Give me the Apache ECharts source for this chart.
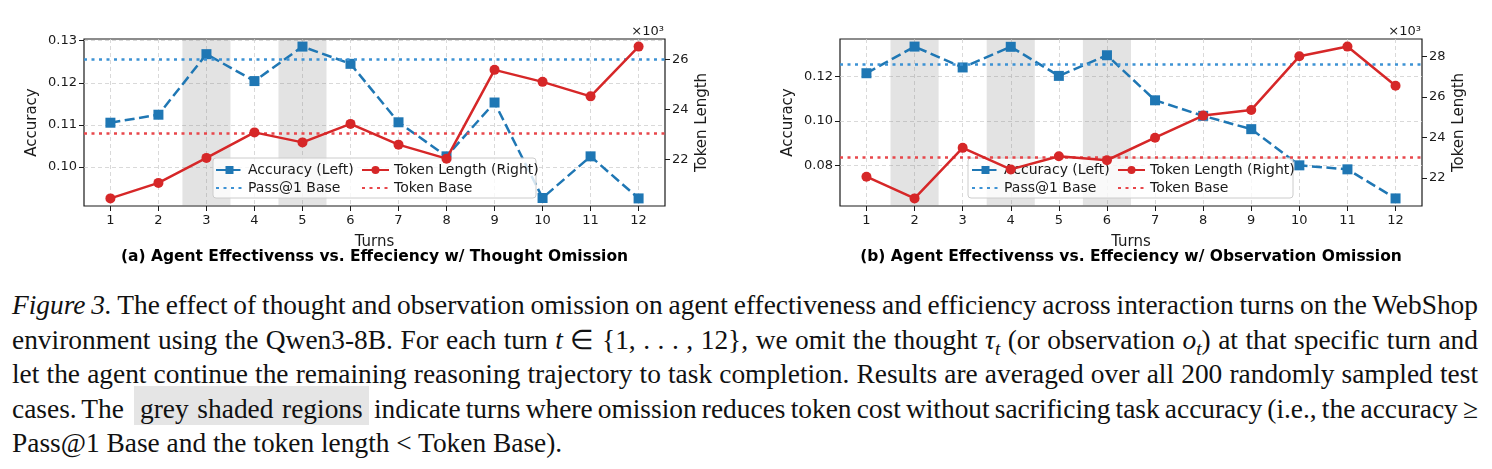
<!DOCTYPE html>
<html>
<head>
<meta charset="utf-8">
<script src="https://cdn.jsdelivr.net/npm/echarts@6/dist/echarts.min.js"></script>
<style>
  html, body { margin: 0; padding: 0; background: #fff; }
  #chart { position: absolute; left: 0; top: 0; width: 1492px; height: 280px; }
  #caption {
    position: absolute; left: 12px; top: 288px; width: 1466px;
    font-family: "Liberation Serif", "Times New Roman", serif;
    font-size: 27.4px; line-height: 34.5px; color: #111;
  }
  #caption .ln { display: block; white-space: nowrap; text-align: justify; text-align-last: justify; word-spacing: -3.5px; }
  #caption .ln.last { text-align-last: left; word-spacing: 0; }
  #caption sub { font-size: 0.7em; line-height: 0; }
  .hl { background: #e5e5e5; padding: 8px 6px 1px; margin-left: 5px; word-spacing: 0; }
</style>
</head>
<body>
<div id="chart"></div>
<div id="caption">
  <span class="ln"><i>Figure 3.</i> The effect of thought and observation omission on agent effectiveness and efficiency across interaction turns on the WebShop</span>
  <span class="ln">environment using the Qwen3-8B. For each turn <i>t</i> &isin; {1, . . . , 12}, we omit the thought <i>&tau;<sub>t</sub></i> (or observation <i>o<sub>t</sub></i>) at that specific turn and</span>
  <span class="ln">let the agent continue the remaining reasoning trajectory to task completion. Results are averaged over all 200 randomly sampled test</span>
  <span class="ln">cases. The <span class="hl">grey shaded regions</span> indicate turns where omission reduces token cost without sacrificing task accuracy (i.e., the accuracy &ge;</span>
  <span class="ln last">Pass@1 Base and the token length &lt; Token Base).</span>
</div>
<script>
const turns = [1, 2, 3, 4, 5, 6, 7, 8, 9, 10, 11, 12];

// (a) thought omission
const accThought = [0.1105, 0.1124, 0.1268, 0.1204, 0.1286, 0.1245, 0.1106, 0.1025, 0.1153, 0.0926, 0.1025, 0.0925];
const tokThought = [20.45, 21.07, 22.07, 23.09, 22.69, 23.43, 22.60, 22.04, 25.59, 25.11, 24.53, 26.52];
const shadedThought = [3, 5];

// (b) observation omission
const accObs = [0.1215, 0.1335, 0.1241, 0.1334, 0.1203, 0.1296, 0.1093, 0.1023, 0.0963, 0.0800, 0.0782, 0.0651];
const tokObs = [22.07, 21.00, 23.49, 22.43, 23.08, 22.88, 23.99, 25.08, 25.36, 28.00, 28.48, 26.55];
const shadedObs = [2, 4, 6];

// baselines (token length in thousands)
const passBase = 0.1255;
const tokenBase = 23.05;

const accTicksThought = [0.10, 0.11, 0.12, 0.13];
const tokTicksThought = [22, 24, 26];
const accTicksObs = [0.08, 0.10, 0.12];
const tokTicksObs = [22, 24, 26, 28];

const titles = [
  "(a) Agent Effectivenss vs. Effeciency w/ Thought Omission",
  "(b) Agent Effectivenss vs. Effeciency w/ Observation Omission",
];

const BLUE = "#1f77b4";
const RED = "#d62728";
const BLUE_BASE = "#3d92d4";
const RED_BASE = "#e8474b";
const INK = "#1a1a1a";
const FONT = "DejaVu Sans";

const chart = echarts.init(document.getElementById("chart"));

function padRange(values) {
  const lo = Math.min(...values);
  const hi = Math.max(...values);
  const pad = (hi - lo) * 0.05;
  return [lo - pad, hi + pad];
}

function pairs(ys) {
  return turns.map((t, i) => [t, ys[i]]);
}

const panels = [
  { left: 84, width: 581, acc: accThought, tok: tokThought, shaded: shadedThought,
    accTicks: accTicksThought, tokTicks: tokTicksThought, legendLeft: 215, boxX: 213, boxW: 323 },
  { left: 840, width: 582, acc: accObs, tok: tokObs, shaded: shadedObs,
    accTicks: accTicksObs, tokTicks: tokTicksObs, legendLeft: 971, boxX: 968, boxW: 325 },
];

const grid = [];
const xAxis = [];
const yAxis = [];
const series = [];
const legend = [];
const title = [];
const graphic = [];

panels.forEach((p, i) => {
  grid.push({ left: p.left, top: 39, width: p.width, height: 167, show: true, borderColor: INK, borderWidth: 1.2 });

  const tickStyle = { show: true, length: 5, lineStyle: { color: INK, width: 1 } };
  const labelStyle = { fontSize: 13, color: INK, fontFamily: FONT };
  const gridLine = { show: true, lineStyle: { color: "#cfcfcf", type: [4, 3], width: 0.8 } };
  const nameStyle = { fontSize: 15, color: INK, fontFamily: FONT };

  xAxis.push({
    gridIndex: i, type: "value", min: 0.45, max: 12.55, z: 1,
    name: "Turns", nameLocation: "middle", nameGap: 29, nameTextStyle: nameStyle,
    axisLine: { show: false },
    axisTick: { ...tickStyle, customValues: turns },
    axisLabel: { ...labelStyle, customValues: turns, margin: 8 },
    splitLine: gridLine,
  });

  const accRange = padRange(p.acc);
  const tokRange = padRange(p.tok);
  yAxis.push({
    gridIndex: i, type: "value", position: "left", min: accRange[0], max: accRange[1], z: 1,
    name: "Accuracy", nameLocation: "middle", nameGap: 44, nameTextStyle: nameStyle,
    axisLine: { show: false },
    axisTick: { ...tickStyle, customValues: p.accTicks },
    axisLabel: { ...labelStyle, customValues: p.accTicks, margin: 7, formatter: (v) => v.toFixed(2) },
    splitLine: gridLine,
  });
  yAxis.push({
    gridIndex: i, type: "value", position: "right", min: tokRange[0], max: tokRange[1], z: 1,
    name: "Token Length", nameLocation: "middle", nameGap: 30, nameTextStyle: nameStyle,
    axisLine: { show: false },
    axisTick: { ...tickStyle, customValues: p.tokTicks },
    axisLabel: { ...labelStyle, customValues: p.tokTicks, margin: 7, formatter: (v) => String(Math.round(v)) },
    splitLine: { show: false },
  });

  const yLeft = i * 2;
  const yRight = i * 2 + 1;

  series.push({
    name: "shade", type: "line", xAxisIndex: i, yAxisIndex: yLeft, data: [], z: 0, silent: true,
    markArea: {
      silent: true,
      itemStyle: { color: "rgba(128,128,128,0.22)" },
      data: p.shaded.map((t) => [{ xAxis: t - 0.5 }, { xAxis: t + 0.5 }]),
    },
  });
  series.push({
    name: "Pass@1 Base", type: "line", xAxisIndex: i, yAxisIndex: yLeft, data: [], z: 2,
    symbol: "none", lineStyle: { color: BLUE_BASE, width: 2.6, type: [3, 4.5] },
    itemStyle: { color: BLUE_BASE },
    markLine: {
      silent: true, symbol: ["none", "none"], label: { show: false }, precision: 6,
      lineStyle: { color: BLUE_BASE, width: 2.6, type: [3, 4.5] },
      data: [{ yAxis: passBase }],
    },
  });
  series.push({
    name: "Accuracy (Left)", type: "line", xAxisIndex: i, yAxisIndex: yLeft, z: 2,
    data: pairs(p.acc), symbol: "rect", symbolSize: 10,
    lineStyle: { color: BLUE, width: 2.5, type: [10, 4.5] },
    itemStyle: { color: BLUE },
  });
  series.push({
    name: "Token Base", type: "line", xAxisIndex: i, yAxisIndex: yRight, data: [], z: 5,
    symbol: "none", lineStyle: { color: RED_BASE, width: 2.6, type: [3, 4.5] },
    itemStyle: { color: RED_BASE },
    markLine: {
      silent: true, symbol: ["none", "none"], label: { show: false }, precision: 6,
      lineStyle: { color: RED_BASE, width: 2.6, type: [3, 4.5] },
      data: [{ yAxis: tokenBase }],
    },
  });
  series.push({
    name: "Token Length (Right)", type: "line", xAxisIndex: i, yAxisIndex: yRight, z: 5,
    data: pairs(p.tok), symbol: "circle", symbolSize: 10,
    lineStyle: { color: RED, width: 2.5 },
    itemStyle: { color: RED },
  });

  const legendBase = {
    orient: "vertical", top: 163, itemWidth: 27, itemHeight: 10, itemGap: 4, padding: 0,
    selectedMode: false, textStyle: { fontSize: 14, color: INK, fontFamily: FONT },
  };
  legend.push({
    ...legendBase, left: p.legendLeft,
    data: ["Accuracy (Left)", { name: "Pass@1 Base", itemStyle: { opacity: 0 } }],
  });
  legend.push({
    ...legendBase, left: p.legendLeft + 146,
    data: ["Token Length (Right)", { name: "Token Base", itemStyle: { opacity: 0 } }],
  });

  graphic.push({
    type: "rect", z: 3, silent: true,
    shape: { x: p.boxX, y: 158, width: p.boxW, height: 40, r: 3 },
    style: { fill: "rgba(255,255,255,0.8)", stroke: "#cccccc", lineWidth: 1 },
  });
  graphic.push({
    type: "text", z: 3, silent: true, x: p.left + p.width - 1, y: 32,
    style: { text: "\u00d710\u00b3", fill: INK, font: "13px DejaVu Sans", align: "right", verticalAlign: "middle" },
  });

  title.push({
    text: titles[i], left: p.left + p.width / 2, top: 249, textAlign: "center", padding: 0,
    textStyle: { fontSize: 15.5, fontWeight: "bold", color: "#000", fontFamily: FONT },
  });
});

chart.setOption({
  animation: false,
  textStyle: { fontFamily: FONT },
  title,
  grid,
  xAxis,
  yAxis,
  legend,
  graphic,
  series,
});
</script>
</body>
</html>
